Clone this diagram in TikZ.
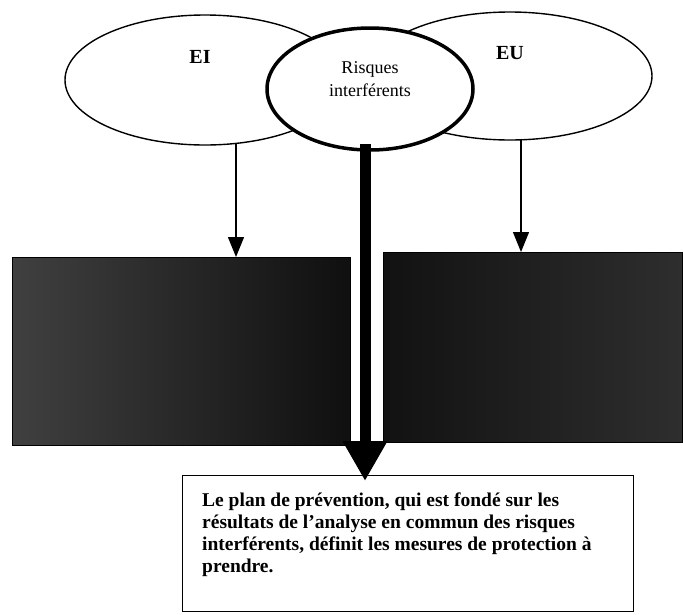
\documentclass[tikz,border=0pt]{standalone}
\usepackage{fontspec}
\setmainfont{Liberation Serif}
\usetikzlibrary{shapes.geometric,arrows.meta}
\begin{document}
\begin{tikzpicture}[x=1pt,y=-1pt,
  ell/.style={ellipse, draw, line width=1.4pt, inner sep=0pt, fill=white},
  darkbox/.style={draw=black, line width=1.2pt, inner sep=0pt, anchor=north west},
  lbl/.style={font=\fontsize{20}{22}\selectfont\bfseries, inner sep=0pt},
  conn/.style={-{Triangle[width=16pt,length=20pt]}, line width=1.3pt},
  bigconn/.style={-{Triangle[width=42pt,length=40pt]}, line width=11pt}]
\useasboundingbox (0,0) rectangle (683,614);
% ellipses
\node[ell, minimum width=280pt, minimum height=130pt] (EI) at (205,80) {};
\node[ell, minimum width=284pt, minimum height=128pt] (EU) at (510,76) {};
\node[ell, line width=3.5pt, minimum width=206pt, minimum height=122pt] (RI) at (370,89) {};
\node[lbl] (EIt) at (200,57) {EI};
\node[lbl] (EUt) at (510,53) {EU};
\node[font=\fontsize{18}{23}\selectfont, align=center, inner sep=0pt] (RIt) at (370,79) {Risques\\interférents};
% dark boxes
\node[darkbox, left color=black!75, right color=black!94, minimum width=338pt, minimum height=188pt] (lbox) at (12,257) {};
\node[darkbox, left color=black!93, right color=black!82, minimum width=299pt, minimum height=190pt] (rbox) at (383,252) {};
% bottom box
\node[draw, line width=1.1pt, inner sep=0pt, anchor=north west, minimum width=451pt, minimum height=136pt] (plan) at (182,475) {};
\node[anchor=north west, inner sep=0pt, align=left, font=\fontsize{19.5}{22}\selectfont\bfseries] (plantxt) at (202,493)
  {Le plan de prévention, qui est fondé sur les\\
   résultats de l’analyse en commun des risques\\
   interférents, définit les mesures de protection à\\
   prendre.};
% connectors
\coordinate (la) at (236,0);
\coordinate (ra) at (521,0);
\coordinate (ba) at (365,0);
\draw[conn] ([yshift=2pt]EI.south -| la) -- (la |- lbox.north);
\draw[conn] ([yshift=2pt]EU.south -| ra) -- (ra |- rbox.north);
\draw[bigconn] ([yshift=8pt]RI.south -| ba) -- ([yshift=-6pt]ba |- plan.north);
\end{tikzpicture}
\end{document}
